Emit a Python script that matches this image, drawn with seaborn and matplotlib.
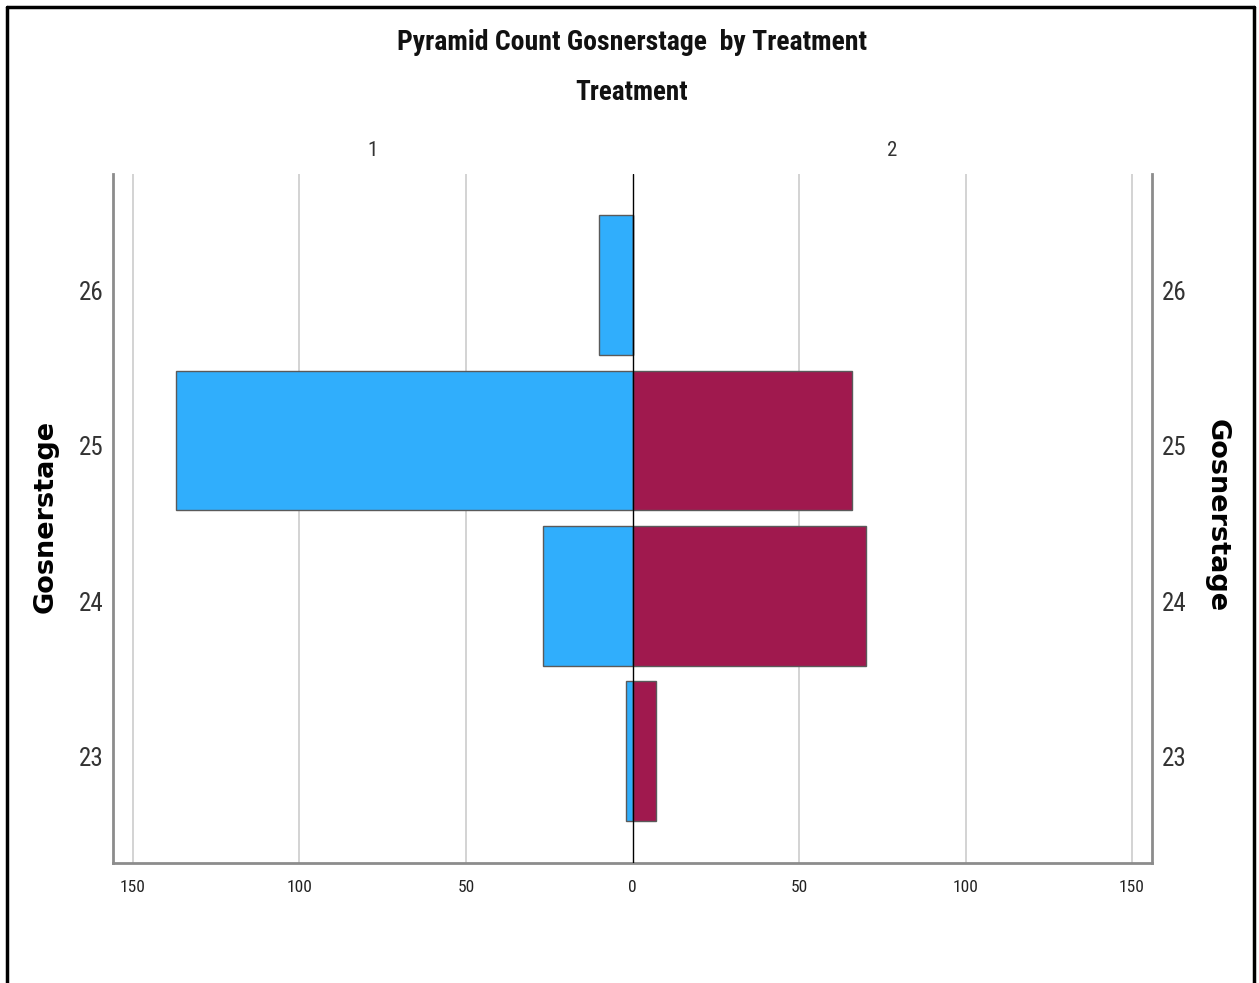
import matplotlib
matplotlib.use("Agg")
import matplotlib.pyplot as plt
from matplotlib import font_manager
from matplotlib.lines import Line2D
from matplotlib.ticker import FuncFormatter
from matplotlib.transforms import ScaledTranslation
import pandas as pd
import seaborn as sns

# data
stages = ["26", "25", "24", "23"]
treat1_counts = [10, 137, 27, 2]
treat2_counts = [0, 66, 70, 7]
treatments = ["1", "2"]
xticks = [-150, -100, -50, 0, 50, 100, 150]


def pick_font(names, default="DejaVu Sans"):
    for n in names:
        try:
            font_manager.findfont(n, fallback_to_default=False)
            return n
        except Exception:
            pass
    return default


sns.set_theme(style="white")
narrow = pick_font(["Liberation Sans Narrow", "Arial Narrow", "Roboto Condensed"], "Liberation Sans")
plt.rcParams['font.family'] = [narrow, 'DejaVu Sans']

df = pd.DataFrame({
    "stage": stages * 2,
    "treatment": ["1"] * len(stages) + ["2"] * len(stages),
    "count": [-v for v in treat1_counts] + treat2_counts,
})

fig = plt.figure(figsize=(12.59, 9.83), dpi=100)
ax = fig.add_axes([113 / 1259, 1 - 863 / 983, (1152 - 113) / 1259, (863 - 174) / 983])

sns.barplot(data=df, y="stage", x="count", hue="treatment", order=stages,
            hue_order=treatments, palette=["#30AEFC", "#A0194E"], saturation=1,
            dodge=False, width=0.9, orient="h", edgecolor="#5a5a5a", linewidth=1.0,
            legend=False, ax=ax, zorder=3)

ax.set_xlim(-156, 156)
ax.set_ylim(3.72, -0.715)
ax.set_xticks(xticks)
ax.xaxis.set_major_formatter(FuncFormatter(lambda v, p: "%d" % abs(v)))
for v in xticks:
    if v == 0:
        ax.axvline(0, color="black", lw=1.0, zorder=4)
    else:
        ax.axvline(v, color="#cccccc", lw=1.2, zorder=1)

ax.set_xlabel("")
ax.set_ylabel("")
for s in ["left", "right", "bottom"]:
    ax.spines[s].set_visible(True)
    ax.spines[s].set_color("#8c8c8c")
    ax.spines[s].set_linewidth(2)
ax.spines["top"].set_visible(False)

ax.tick_params(axis="y", left=False, right=False, labelleft=True, labelright=True,
               labelsize=18, colors="#333333", pad=1)
ax.tick_params(axis="x", bottom=False, labelsize=12.5, colors="#222222", pad=6)
# stage labels sit a little below the bar centres in the reference
shift = ScaledTranslation(0, -4 / 72, fig.dpi_scale_trans)
for t in ax.yaxis.get_major_ticks():
    t.label1.set_transform(t.label1.get_transform() + shift)
    t.label2.set_transform(t.label2.get_transform() + shift)

# titles
fig.text(632 / 1259, 1 - 42 / 983, "Pyramid Count Gosnerstage  by Treatment",
         ha="center", va="center", fontsize=20, fontweight="bold", color="#111111")
fig.text(632 / 1259, 1 - 92 / 983, "Treatment", ha="center", va="center",
         fontsize=19.5, fontweight="bold", color="#111111")
fig.text(372 / 1259, 1 - 151 / 983, treatments[0], ha="center", va="center",
         fontsize=15, color="#333333")
fig.text(892 / 1259, 1 - 151 / 983, treatments[1], ha="center", va="center",
         fontsize=15, color="#333333")

fig.text(46 / 1259, 1 - 516 / 983, "Gosnerstage", rotation=90, ha="center", va="center",
         fontsize=19.5, fontweight="bold", family="DejaVu Sans", color="black")
fig.text(1217 / 1259, 1 - 516 / 983, "Gosnerstage", rotation=-90, ha="center", va="center",
         fontsize=19.5, fontweight="bold", family="DejaVu Sans", color="black")

# outer frame (left, top, right)
for xs, ys in [([7 / 1259, 7 / 1259], [0, 1 - 7 / 983]),
               ([7 / 1259, 1254 / 1259], [1 - 7 / 983, 1 - 7 / 983]),
               ([1254 / 1259, 1254 / 1259], [1 - 7 / 983, 0])]:
    fig.add_artist(Line2D(xs, ys, color="black", lw=2.5, transform=fig.transFigure))

fig.savefig("out.png", dpi=100)
